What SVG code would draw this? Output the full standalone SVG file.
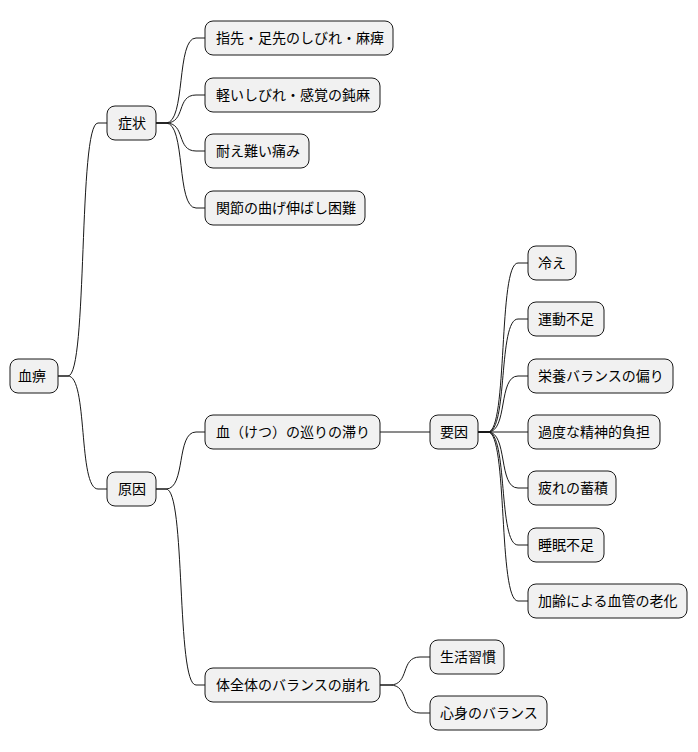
<svg xmlns="http://www.w3.org/2000/svg" width="698" height="752" viewBox="0 0 698 752">
<style>
.n rect{fill:#F1F1F1;stroke:#181818;stroke-width:1}
.n text{font-family:"Noto Sans CJK JP","Noto Sans",sans-serif;font-size:14px;fill:#000}
.c path{fill:none;stroke:#181818;stroke-width:1}
</style>
<rect width="698" height="752" fill="#fff"/>
<g class="c">
<path d="M58,376 L68,376 C88,376 78,123 98,123 L107,123"/>
<path d="M58,376 L68,376 C88,376 78,489 98,489 L107,489"/>
<path d="M156,123 L166,123 C186,123 176,38 196,38 L205,38"/>
<path d="M156,123 L166,123 C186,123 176,95 196,95 L205,95"/>
<path d="M156,123 L166,123 C186,123 176,151 196,151 L205,151"/>
<path d="M156,123 L166,123 C186,123 176,208 196,208 L205,208"/>
<path d="M156,489 L166,489 C186,489 176,432 196,432 L205,432"/>
<path d="M156,489 L166,489 C186,489 176,685 196,685 L205,685"/>
<path d="M380,432 L430,432"/>
<path d="M380,685 L390,685 C410,685 400,657 420,657 L430,657"/>
<path d="M380,685 L390,685 C410,685 400,713 420,713 L430,713"/>
<path d="M478,432 L488,432 C508,432 498,263 518,263 L528,263"/>
<path d="M478,432 L488,432 C508,432 498,319 518,319 L528,319"/>
<path d="M478,432 L488,432 C508,432 498,376 518,376 L528,376"/>
<path d="M478,432 L528,432"/>
<path d="M478,432 L488,432 C508,432 498,488 518,488 L528,488"/>
<path d="M478,432 L488,432 C508,432 498,545 518,545 L528,545"/>
<path d="M478,432 L488,432 C508,432 498,601 518,601 L528,601"/>
</g>
<g id="n0" class="n"><rect x="10" y="359" width="48" height="34" rx="8"/><text x="18" y="381">血痹</text></g>
<g id="n1" class="n"><rect x="107" y="106" width="49" height="34" rx="8"/><text x="118" y="128">症状</text></g>
<g id="n2" class="n"><rect x="107" y="472" width="49" height="34" rx="8"/><text x="118" y="494">原因</text></g>
<g id="n3" class="n"><rect x="205" y="21" width="188" height="34" rx="8"/><text x="216" y="43">指先・足先のしびれ・麻痺</text></g>
<g id="n4" class="n"><rect x="205" y="78" width="175" height="34" rx="8"/><text x="216" y="100">軽いしびれ・感覚の鈍麻</text></g>
<g id="n5" class="n"><rect x="205" y="134" width="104" height="34" rx="8"/><text x="216" y="156">耐え難い痛み</text></g>
<g id="n6" class="n"><rect x="205" y="191" width="160" height="34" rx="8"/><text x="216" y="213">関節の曲げ伸ばし困難</text></g>
<g id="n7" class="n"><rect x="205" y="415" width="175" height="34" rx="8"/><text x="216" y="437">血（けつ）の巡りの滞り</text></g>
<g id="n8" class="n"><rect x="205" y="668" width="175" height="34" rx="8"/><text x="216" y="690">体全体のバランスの崩れ</text></g>
<g id="n9" class="n"><rect x="430" y="415" width="48" height="34" rx="8"/><text x="440" y="437">要因</text></g>
<g id="n10" class="n"><rect x="430" y="640" width="74" height="34" rx="8"/><text x="440" y="662">生活習慣</text></g>
<g id="n11" class="n"><rect x="430" y="696" width="117" height="34" rx="8"/><text x="440" y="718">心身のバランス</text></g>
<g id="n12" class="n"><rect x="528" y="246" width="48" height="34" rx="8"/><text x="538" y="268">冷え</text></g>
<g id="n13" class="n"><rect x="528" y="302" width="76" height="34" rx="8"/><text x="538" y="324">運動不足</text></g>
<g id="n14" class="n"><rect x="528" y="359" width="145" height="34" rx="8"/><text x="538" y="381">栄養バランスの偏り</text></g>
<g id="n15" class="n"><rect x="528" y="415" width="132" height="34" rx="8"/><text x="538" y="437">過度な精神的負担</text></g>
<g id="n16" class="n"><rect x="528" y="471" width="88" height="34" rx="8"/><text x="538" y="493">疲れの蓄積</text></g>
<g id="n17" class="n"><rect x="528" y="528" width="76" height="34" rx="8"/><text x="538" y="550">睡眠不足</text></g>
<g id="n18" class="n"><rect x="528" y="584" width="159" height="34" rx="8"/><text x="538" y="606">加齢による血管の老化</text></g>
</svg>
